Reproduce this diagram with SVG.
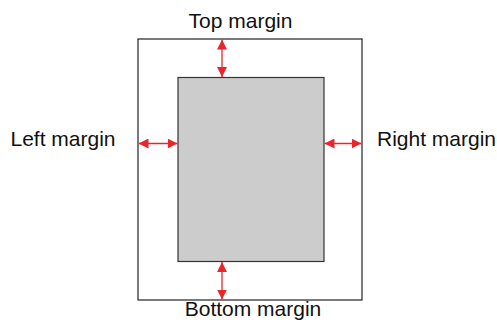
<svg xmlns="http://www.w3.org/2000/svg" width="497" height="323" viewBox="0 0 497 323">
<style>
.box{fill:#fff;stroke:#222;stroke-width:1.2}
.page{fill:#cccccc;stroke:#333;stroke-width:1.2}
.lbl{font-family:"Liberation Sans",Arial,sans-serif;font-size:21px;fill:#111}
.arr{stroke:#e8272c;stroke-width:1.3;fill:none;marker-start:url(#ah);marker-end:url(#ah)}
</style>
<defs>
<marker id="ah" viewBox="0 0 10 10" refX="10" refY="5" markerWidth="10" markerHeight="10" markerUnits="userSpaceOnUse" orient="auto-start-reverse">
<path d="M0,0 L10,5 L0,10 z" fill="#e8272c"/>
</marker>
</defs>
<g id="outer"><rect class="box" x="138" y="39" width="224" height="261"/></g>
<g id="inner"><rect class="page" x="178" y="77.5" width="146" height="184"/></g>
<g id="connectors">
<line class="arr" x1="222" y1="39.5" x2="222" y2="77"/>
<line class="arr" x1="222" y1="262" x2="222" y2="299.5"/>
<line class="arr" x1="138.5" y1="143.5" x2="177.5" y2="143.5"/>
<line class="arr" x1="324.5" y1="143.5" x2="361.5" y2="143.5"/>
</g>
<g id="labels">
<text class="lbl" x="240.5" y="28" text-anchor="middle">Top margin</text>
<text class="lbl" x="253" y="315.5" text-anchor="middle">Bottom margin</text>
<text class="lbl" x="10.5" y="146">Left margin</text>
<text class="lbl" x="377" y="146">Right margin</text>
</g>
</svg>
